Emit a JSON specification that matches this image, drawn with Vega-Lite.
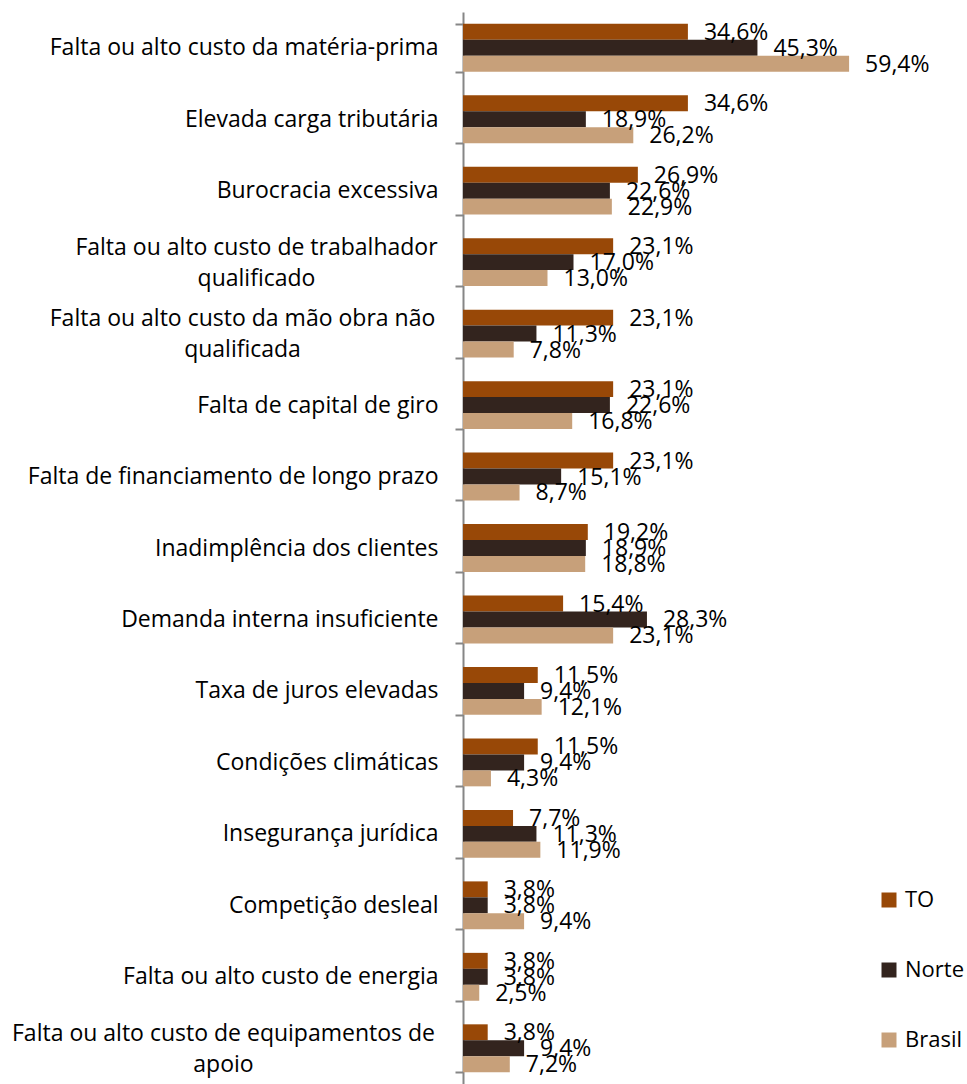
{
  "$schema": "https://vega.github.io/schema/vega-lite/v6.json",
  "width": 455,
  "height": 1072,
  "autosize": {"type": "none"},
  "padding": {"left": 463, "top": 12, "right": 49, "bottom": 0},
  "background": "white",
  "config": {
    "view": {"stroke": null},
    "font": "Open Sans",
    "locale": {"number": {"decimal": ",", "thousands": ".", "grouping": [3], "currency": ["R$", ""]}}
  },
  "data": {
    "values": [
      {"categoria": "Falta ou alto custo da matéria-prima", "serie": "TO", "valor": 0.346},
      {"categoria": "Falta ou alto custo da matéria-prima", "serie": "Norte", "valor": 0.453},
      {"categoria": "Falta ou alto custo da matéria-prima", "serie": "Brasil", "valor": 0.594},
      {"categoria": "Elevada carga tributária", "serie": "TO", "valor": 0.346},
      {"categoria": "Elevada carga tributária", "serie": "Norte", "valor": 0.189},
      {"categoria": "Elevada carga tributária", "serie": "Brasil", "valor": 0.262},
      {"categoria": "Burocracia excessiva", "serie": "TO", "valor": 0.269},
      {"categoria": "Burocracia excessiva", "serie": "Norte", "valor": 0.226},
      {"categoria": "Burocracia excessiva", "serie": "Brasil", "valor": 0.229},
      {"categoria": "Falta ou alto custo de trabalhador qualificado", "serie": "TO", "valor": 0.231},
      {"categoria": "Falta ou alto custo de trabalhador qualificado", "serie": "Norte", "valor": 0.170},
      {"categoria": "Falta ou alto custo de trabalhador qualificado", "serie": "Brasil", "valor": 0.130},
      {"categoria": "Falta ou alto custo da mão obra não qualificada", "serie": "TO", "valor": 0.231},
      {"categoria": "Falta ou alto custo da mão obra não qualificada", "serie": "Norte", "valor": 0.113},
      {"categoria": "Falta ou alto custo da mão obra não qualificada", "serie": "Brasil", "valor": 0.078},
      {"categoria": "Falta de capital de giro", "serie": "TO", "valor": 0.231},
      {"categoria": "Falta de capital de giro", "serie": "Norte", "valor": 0.226},
      {"categoria": "Falta de capital de giro", "serie": "Brasil", "valor": 0.168},
      {"categoria": "Falta de financiamento de longo prazo", "serie": "TO", "valor": 0.231},
      {"categoria": "Falta de financiamento de longo prazo", "serie": "Norte", "valor": 0.151},
      {"categoria": "Falta de financiamento de longo prazo", "serie": "Brasil", "valor": 0.087},
      {"categoria": "Inadimplência dos clientes", "serie": "TO", "valor": 0.192},
      {"categoria": "Inadimplência dos clientes", "serie": "Norte", "valor": 0.189},
      {"categoria": "Inadimplência dos clientes", "serie": "Brasil", "valor": 0.188},
      {"categoria": "Demanda interna insuficiente", "serie": "TO", "valor": 0.154},
      {"categoria": "Demanda interna insuficiente", "serie": "Norte", "valor": 0.283},
      {"categoria": "Demanda interna insuficiente", "serie": "Brasil", "valor": 0.231},
      {"categoria": "Taxa de juros elevadas", "serie": "TO", "valor": 0.115},
      {"categoria": "Taxa de juros elevadas", "serie": "Norte", "valor": 0.094},
      {"categoria": "Taxa de juros elevadas", "serie": "Brasil", "valor": 0.121},
      {"categoria": "Condições climáticas", "serie": "TO", "valor": 0.115},
      {"categoria": "Condições climáticas", "serie": "Norte", "valor": 0.094},
      {"categoria": "Condições climáticas", "serie": "Brasil", "valor": 0.043},
      {"categoria": "Insegurança jurídica", "serie": "TO", "valor": 0.077},
      {"categoria": "Insegurança jurídica", "serie": "Norte", "valor": 0.113},
      {"categoria": "Insegurança jurídica", "serie": "Brasil", "valor": 0.119},
      {"categoria": "Competição desleal", "serie": "TO", "valor": 0.038},
      {"categoria": "Competição desleal", "serie": "Norte", "valor": 0.038},
      {"categoria": "Competição desleal", "serie": "Brasil", "valor": 0.094},
      {"categoria": "Falta ou alto custo de energia", "serie": "TO", "valor": 0.038},
      {"categoria": "Falta ou alto custo de energia", "serie": "Norte", "valor": 0.038},
      {"categoria": "Falta ou alto custo de energia", "serie": "Brasil", "valor": 0.025},
      {"categoria": "Falta ou alto custo de equipamentos de apoio", "serie": "TO", "valor": 0.038},
      {"categoria": "Falta ou alto custo de equipamentos de apoio", "serie": "Norte", "valor": 0.094},
      {"categoria": "Falta ou alto custo de equipamentos de apoio", "serie": "Brasil", "valor": 0.072}
    ]
  },
  "encoding": {
    "y": {
      "field": "categoria",
      "type": "nominal",
      "sort": null,
      "scale": {"paddingInner": 0.33, "paddingOuter": 0.165},
      "axis": {
        "title": null,
        "domainColor": "#868686",
        "domainWidth": 2,
        "tickColor": "#868686",
        "tickWidth": 2,
        "tickSize": 8,
        "tickBand": "extent",
        "labelFont": "Open Sans",
        "labelFontSize": 23,
        "labelColor": "#000000",
        "labelLimit": 0,
        "labelLineHeight": 31,
        "labelExpr": "datum.value == 'Falta ou alto custo de trabalhador qualificado' ? ['Falta ou alto custo de trabalhador', 'qualificado'] : datum.value == 'Falta ou alto custo da mão obra não qualificada' ? ['Falta ou alto custo da mão obra não', 'qualificada'] : datum.value == 'Falta ou alto custo de equipamentos de apoio' ? ['Falta ou alto custo de equipamentos de', 'apoio'] : datum.label",
        "labelAlign": {
          "condition": {"test": "datum.value == 'Falta ou alto custo de trabalhador qualificado' || datum.value == 'Falta ou alto custo da mão obra não qualificada' || datum.value == 'Falta ou alto custo de equipamentos de apoio'", "value": "center"},
          "value": "right"
        },
        "labelOffset": {
          "condition": {"test": "datum.value == 'Falta ou alto custo de trabalhador qualificado' || datum.value == 'Falta ou alto custo da mão obra não qualificada' || datum.value == 'Falta ou alto custo de equipamentos de apoio'", "value": -15},
          "value": 0
        },
        "labelPadding": {
          "condition": [
            {"test": "datum.value == 'Falta ou alto custo de trabalhador qualificado'", "value": 199},
            {"test": "datum.value == 'Falta ou alto custo da mão obra não qualificada'", "value": 213},
            {"test": "datum.value == 'Falta ou alto custo de equipamentos de apoio'", "value": 232}
          ],
          "value": 17
        }
      }
    },
    "yOffset": {
      "field": "serie",
      "type": "nominal",
      "sort": ["TO", "Norte", "Brasil"],
      "scale": {"paddingInner": 0, "paddingOuter": 0}
    },
    "x": {
      "field": "valor",
      "type": "quantitative",
      "scale": {"domain": [0, 0.7]},
      "axis": null
    }
  },
  "layer": [
    {
      "mark": {"type": "bar"},
      "encoding": {
        "color": {
          "field": "serie",
          "type": "nominal",
          "sort": ["TO", "Norte", "Brasil"],
          "scale": {"domain": ["TO", "Norte", "Brasil"], "range": ["#984807", "#33241E", "#C7A07A"]},
          "legend": {
            "title": null,
            "orient": "none",
            "legendX": 415,
            "legendY": 877,
            "padding": 0,
            "symbolType": "square",
            "symbolSize": 225,
            "symbolStrokeWidth": 0,
            "symbolOpacity": 1,
            "labelFont": "Open Sans",
            "labelFontSize": 22,
            "labelColor": "#000000",
            "labelOffset": 5,
            "rowPadding": 48
          }
        }
      }
    },
    {
      "mark": {"type": "text", "align": "left", "baseline": "middle", "dx": 16, "dy": 1, "fontSize": 23, "font": "Open Sans", "color": "#000000"},
      "encoding": {
        "text": {"field": "valor", "type": "quantitative", "format": ".1%"}
      }
    }
  ]
}
